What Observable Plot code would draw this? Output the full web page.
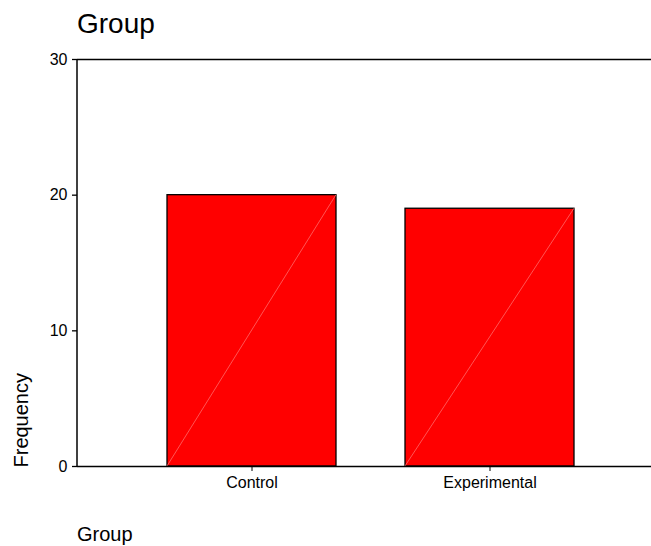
<!DOCTYPE html>
<html>
<head>
<meta charset="utf-8">
<script src="https://cdn.jsdelivr.net/npm/d3@7"></script>
<script src="https://cdn.jsdelivr.net/npm/@observablehq/plot@0.6"></script>
<style>
  html, body { margin: 0; padding: 0; background: #fff; }
  body { width: 651px; height: 546px; overflow: hidden; font-family: "Liberation Sans", Arial, Helvetica, sans-serif; }
  .title { font-size: 28px; line-height: 28px; height: 28px; padding-top: 10px; padding-left: 77px; color: #000; }
  .xlabel { font-size: 20px; line-height: 20px; margin-top: 18px; padding-left: 77px; color: #000; }
  svg { display: block; }
</style>
</head>
<body>
<div class="title">Group</div>
<div id="chart"></div>
<div class="xlabel">Group</div>
<script>
const categories = ["Control", "Experimental"];
const frequencies = [20, 19];
const yTicks = [0, 10, 20, 30];
const yLabel = "Frequency";

const data = categories.map((c, i) => ({group: c, count: frequencies[i]}));

const diagonals = (index, scales) => {
  const x = scales.x, y = scales.y;
  const bw = typeof x.bandwidth === "function" ? x.bandwidth() : x.bandwidth;
  const g = d3.create("svg:g");
  data.forEach(d => {
    g.append("line")
      .attr("x1", x(d.group))
      .attr("y1", y(0))
      .attr("x2", x(d.group) + bw)
      .attr("y2", y(d.count))
      .attr("stroke", "#ff6a6a")
      .attr("stroke-width", 0.8);
  });
  return g.node();
};

const leftAxisLine = (index, scales) => {
  const x = scales.x, y = scales.y;
  const x0 = x.range()[0];
  const yr = [y(yTicks[0]), y(yTicks[yTicks.length - 1])];
  const g = d3.create("svg:g");
  g.append("line")
    .attr("x1", x0).attr("x2", x0)
    .attr("y1", yr[0]).attr("y2", yr[1])
    .attr("stroke", "#000")
    .attr("stroke-width", 1.5);
  return g.node();
};

const chart = Plot.plot({
  width: 651,
  height: 468,
  marginTop: 21,
  marginLeft: 77,
  marginRight: 0,
  marginBottom: 40,
  style: {fontFamily: "'Liberation Sans', Arial, Helvetica, sans-serif", fontSize: "16px", color: "#000", background: "#fff"},
  x: {domain: categories, paddingInner: 0.2887, paddingOuter: 0.3452, align: 0.539, label: null},
  y: {domain: [0, 30], label: null},
  marks: [
    Plot.barY(data, {x: "group", y: "count", fill: "#ff0000", stroke: "#000", strokeWidth: 1.3}),
    diagonals,
    Plot.ruleY([yTicks[0], yTicks[yTicks.length - 1]], {stroke: "#000", strokeWidth: 1.5}),
    leftAxisLine,
    Plot.axisY({ticks: yTicks, tickSize: 5, tickPadding: 5, label: null, fontSize: 16, strokeWidth: 1.3}),
    Plot.axisX({tickSize: 5, tickPadding: 5, label: null, fontSize: 16}),
    Plot.text([yLabel], {frameAnchor: "bottom-left", text: d => d, rotate: -90, textAnchor: "start", dx: -50, dy: 1, fontSize: 20, fill: "#000"})
  ]
});
document.getElementById("chart").appendChild(chart);
</script>
</body>
</html>
